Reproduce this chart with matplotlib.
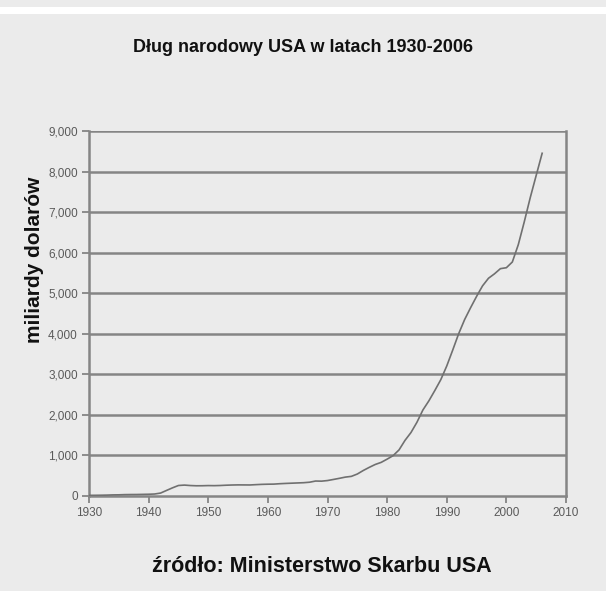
import matplotlib.pyplot as plt
from matplotlib.patches import Rectangle
from matplotlib.ticker import FuncFormatter

# US national debt, billions of dollars
years = list(range(1930, 2007))
debt = [16, 17, 19, 22, 27, 29, 34, 36, 37, 40,
        43, 49, 72, 137, 201, 259, 269, 258, 252, 253,
        257, 255, 259, 266, 271, 274, 273, 272, 280, 287,
        291, 293, 303, 310, 316, 322, 328, 340, 369, 366,
        381, 408, 436, 466, 484, 542, 629, 706, 777, 829,
        909, 995, 1137, 1372, 1565, 1818, 2121, 2346, 2601, 2868,
        3206, 3598, 4002, 4351, 4643, 4921, 5181, 5369, 5478, 5606,
        5629, 5770, 6198, 6760, 7355, 7905, 8451]

x_ticks = list(range(1930, 2011, 10))
y_ticks = list(range(0, 9001, 1000))

title = "Dług narodowy USA w latach 1930-2006"
ylabel = "miliardy dolarów"
source = "źródło: Ministerstwo Skarbu USA"

plt.rcParams['font.family'] = ['Liberation Sans', 'DejaVu Sans']

bg = '#ebebeb'
grid_col = '#858585'

fig = plt.figure(figsize=(6.06, 5.91), dpi=100)
fig.patch.set_facecolor(bg)
# white strip near the top edge
fig.patches.append(Rectangle((0, 1 - 14 / 591), 1, 7 / 591, transform=fig.transFigure,
                             facecolor='white', edgecolor='none'))

ax = fig.add_axes([89 / 606, 1 - 496 / 591, (566 - 89) / 606, (496 - 131) / 591])
ax.set_facecolor(bg)

for y in y_ticks[1:]:
    ax.axhline(y, color=grid_col, lw=1.8, zorder=1)

ax.plot(years, debt, color='#707070', lw=1.2, zorder=3)

ax.set_xlim(1930, 2010)
ax.set_ylim(0, 9000)
ax.set_xticks(x_ticks)
ax.set_yticks(y_ticks)
ax.yaxis.set_major_formatter(FuncFormatter(lambda v, p: f"{int(v):,}"))

for side in ['left', 'bottom', 'right']:
    ax.spines[side].set_color(grid_col)
    ax.spines[side].set_linewidth(1.8)
ax.spines['top'].set_visible(False)

ax.tick_params(axis='both', direction='out', length=5, width=1.3, color=grid_col,
               labelsize=8.5, labelcolor='#5a5a5a')
ax.tick_params(axis='x', pad=3)
ax.tick_params(axis='y', pad=3)

fig.text(303 / 606, 1 - 47 / 591, title, ha='center', va='center',
         fontsize=13, fontweight='bold', color='#111111')
fig.text(35 / 606, 1 - 260 / 591, ylabel, ha='center', va='center', rotation=90,
         fontsize=15, fontweight='bold', color='#111111')
fig.text(322 / 606, 1 - 567 / 591, source, ha='center', va='center',
         fontsize=15.5, fontweight='bold', color='#111111')

fig.savefig('out.png', dpi=100, facecolor=fig.get_facecolor())
